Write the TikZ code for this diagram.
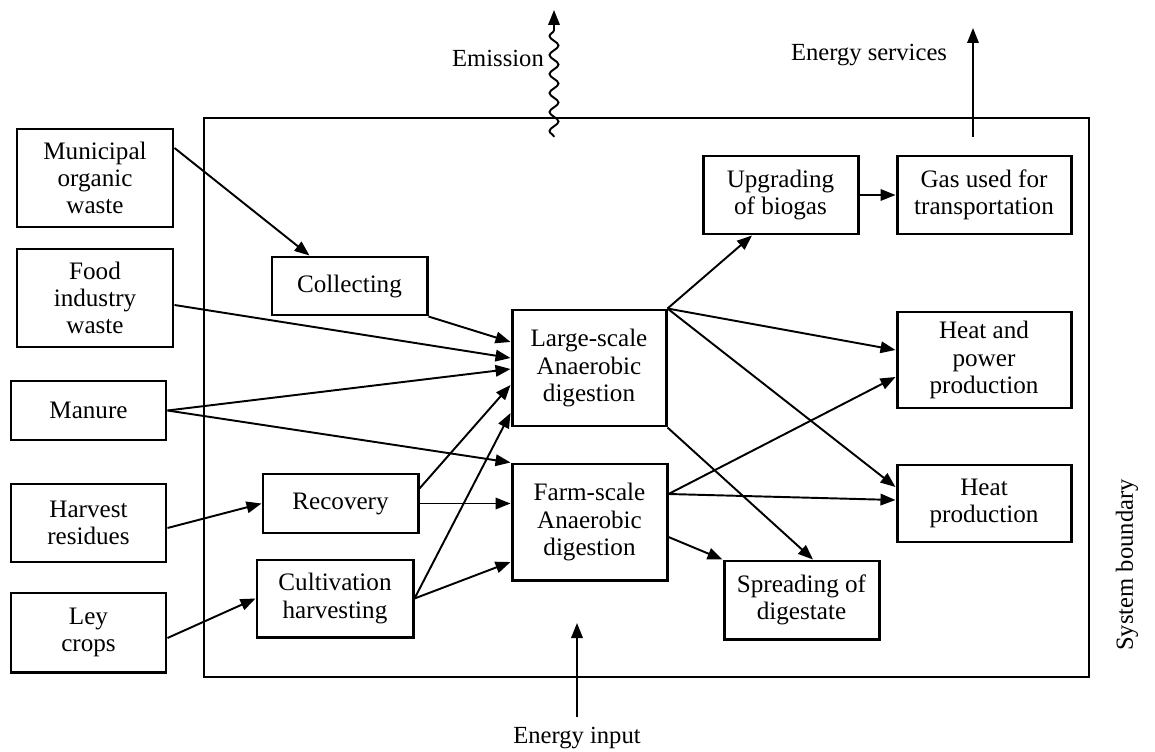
\documentclass[tikz,border=0pt]{standalone}
\usepackage{fontspec}
\setmainfont{Liberation Serif}
\usepackage{tikz}
\usetikzlibrary{arrows.meta,decorations.pathmorphing}

\begin{document}
\begin{tikzpicture}[x=0.2mm,y=0.2mm,
  box/.style={draw,line width=1.7pt,align=center,inner sep=0pt,font=\fontsize{14.3}{15.4}\selectfont},
  flow/.style={-{Triangle[length=3mm,width=2.3mm]},line width=1.1pt},
  lbl/.style={font=\fontsize{14}{15}\selectfont}]
\useasboundingbox (0,0) rectangle (1155,751);

\draw[line width=1.5pt] (204,74) rectangle (1089,633);

\node[box,minimum width=31.2mm,minimum height=19.6mm] (mow) at (95,573) {Municipal\\organic\\waste};
\node[box,minimum width=31.2mm,minimum height=19.6mm] (fiw) at (95,453) {Food\\industry\\waste};
\node[box,minimum width=31mm,minimum height=11.8mm] (man) at (88.5,340.5) {Manure};
\node[box,minimum width=31mm,minimum height=15.6mm] (har) at (88.5,228) {Harvest\\residues};
\node[box,minimum width=31mm,minimum height=15.8mm] (ley) at (88.5,118.5) {Ley\\crops};

\node[box,minimum width=31mm,minimum height=11.6mm] (col) at (349.5,465) {Collecting};
\node[box,minimum width=31mm,minimum height=11.8mm] (rec) at (340.5,247.5) {Recovery};
\node[box,minimum width=31.2mm,minimum height=15.4mm] (cul) at (335,152.5) {Cultivation\\harvesting};

\node[box,minimum width=30.8mm,minimum height=23.2mm] (lad) at (589,383) {Large-scale\\Anaerobic\\digestion};
\node[box,minimum width=31mm,minimum height=23.2mm] (fad) at (589.5,229) {Farm-scale\\Anaerobic\\digestion};

\node[box,minimum width=31mm,minimum height=15.6mm] (upg) at (780.5,556) {Upgrading\\of biogas};
\node[box,minimum width=34.8mm,minimum height=15.6mm] (gas) at (984,556) {Gas used for\\transportation};
\node[box,minimum width=34.8mm,minimum height=19.2mm] (hap) at (984,391) {Heat and\\power\\production};
\node[box,minimum width=34.8mm,minimum height=15.4mm] (hep) at (984,247.5) {Heat\\production};
\node[box,minimum width=31mm,minimum height=15.6mm] (spr) at (801.5,151) {Spreading of\\digestate};

\draw[flow] ([yshift=6mm]mow.east) -- ([xshift=-8mm]col.north);
\draw[flow] (col.south east) -- ([yshift=5.2mm]lad.west);
\draw[flow] ([yshift=-1.4mm]fiw.east) -- ([yshift=2mm]lad.west);
\draw[flow] (man.east) -- ([yshift=-0.2mm]lad.west);
\draw[flow] (man.east) -- (fad.north west);
\draw[flow] ([yshift=-1mm]har.east) -- (rec.west);
\draw[flow] ([yshift=-1.1mm]ley.east) -- (cul.west);
\draw[flow] ([yshift=3mm]rec.east) -- ([yshift=-3.4mm]lad.west);
\draw[flow] (rec.east) -- (rec.east -| fad.west);
\draw[flow] (cul.east) -- ([yshift=-9mm]lad.west);
\draw[flow] (cul.east) -- ([yshift=-8mm]fad.west);

\draw[flow] (lad.north east) -- ([xshift=-5.7mm]upg.south);
\draw[flow] (lad.north east) -- ([yshift=2mm]hap.west);
\draw[flow] (lad.north east) -- ([yshift=3.3mm]hep.west);
\draw[flow] (lad.south east) -- ([xshift=2.3mm]spr.north);
\draw[flow] ([yshift=5.6mm]fad.east) -- ([yshift=-3.4mm]hap.west);
\draw[flow] ([yshift=5.6mm]fad.east) -- ([yshift=0.7mm]hep.west);
\draw[flow] ([yshift=-3mm]fad.east) -- (spr.north west);
\draw[flow] (upg.east) -- (upg.east -| gas.west);

\coordinate (emb) at (554,614);
\coordinate (emt) at (554,741);
\draw[flow,decorate,decoration={snake,amplitude=0.9mm,segment length=3.8mm,post length=3mm}] (emb) -- (emt);
\node[lbl] (emi) at (498,693) {Emission};

\coordinate (esb) at (973,614);
\coordinate (est) at (973,723);
\draw[flow] (esb) -- (est);
\node[lbl] (ens) at (869,696) {Energy services};

\coordinate (eib) at (577,34);
\coordinate (eit) at (577,128);
\draw[flow] (eib) -- (eit);
\node[lbl] (eni) at (577,13) {Energy input};

\node[lbl,rotate=90] (sbd) at (1127,186) {System boundary};

\end{tikzpicture}
\end{document}
